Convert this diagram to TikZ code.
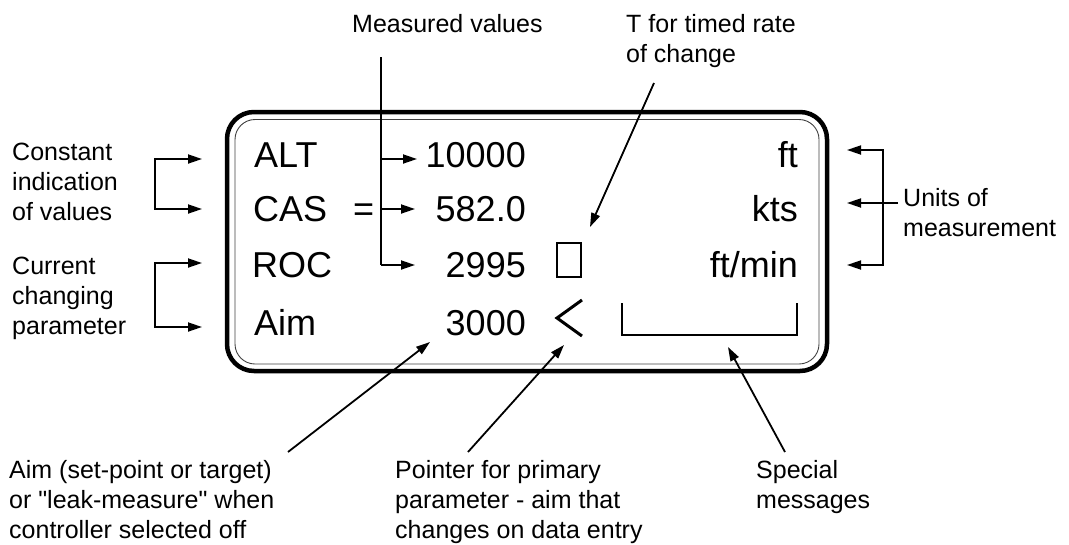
\documentclass[tikz,border=0pt]{standalone}
\usepackage{fontspec}
\setmainfont{Liberation Sans}
\usetikzlibrary{arrows.meta}
\begin{document}
\begin{tikzpicture}[x=1pt,y=-1pt,
  disp/.style={inner sep=0pt,font=\fontsize{36}{43}\selectfont},
  lbl/.style={inner sep=0pt,align=left,font=\fontsize{25}{30}\selectfont},
  conn/.style={line width=1.8pt,-{Triangle[length=14pt,width=9pt]}},
  plain/.style={line width=1.8pt},
  dbl/.style={line width=1.8pt,{Triangle[length=14pt,width=9pt]}-{Triangle[length=14pt,width=9pt]}}]
\useasboundingbox (0,0) rectangle (1069,544);
% display frame
\draw[line width=4.5pt,rounded corners=27pt] (227,112) rectangle (827,371);
\draw[line width=0.9pt,black!75,rounded corners=20pt] (235,119.5) rectangle (819,364);
% display text
\node[disp,anchor=base west] (alt) at (254,167) {ALT};
\node[disp,anchor=base west] (cas) at (253,221) {CAS};
\node[disp,anchor=base west] (roc) at (252,277) {ROC};
\node[disp,anchor=base west] (aim) at (254,335) {Aim};
\node[disp,anchor=base west] (eq) at (353,221) {=};
\node[disp,anchor=base east] (v1) at (526,167) {10000};
\node[disp,anchor=base east] (v2) at (526,221) {582.0};
\node[disp,anchor=base east] (v3) at (526,277) {2995};
\node[disp,anchor=base east] (v4) at (526,335) {3000};
\node[disp,anchor=base east] (u1) at (798,167) {ft};
\node[disp,anchor=base east] (u2) at (798,221) {kts};
\node[disp,anchor=base east] (u3) at (798,277) {ft/min};
% timed box, pointer, message field
\draw[line width=1.5pt] (557,243) rectangle (581,277);
\draw[line width=3pt] (582,300) -- (557,318) -- (582,336);
\draw[line width=1.5pt] (622,303) -- (622,335) -- (797,335) -- (797,303);
% labels (anchor = baseline of last line)
\node[lbl,anchor=base west] (lmeas) at (352,32) {Measured values};
\node[lbl,anchor=base west] (lt) at (626,62) {T for timed rate\\of change};
\node[lbl,anchor=base west] (lconst) at (12,220) {Constant\\indication\\of values};
\node[lbl,anchor=base west] (lcur) at (12,334) {Current\\changing\\parameter};
\node[lbl,anchor=base west] (lunits) at (903,236) {Units of\\measurement};
\node[lbl,anchor=base west] (laim) at (9,538) {Aim (set-point or target)\\or \textquotedbl leak-measure\textquotedbl{} when\\controller selected off};
\node[lbl,anchor=base west] (lptr) at (395,538) {Pointer for primary\\parameter - aim that\\changes on data entry};
\node[lbl,anchor=base west] (lspec) at (756,508) {Special\\messages};
% connector points
\coordinate (mtop) at (381,57);
\coordinate (m1) at (381,159);
\coordinate (m2) at (381,209);
\coordinate (m3) at (381,265);
\coordinate (t1) at (417,159);
\coordinate (t2) at (415,209);
\coordinate (t3) at (415,265);
\coordinate (ts) at (654,83);
\coordinate (te) at (590,227);
\coordinate (ca) at (202,159);
\coordinate (cb) at (202,209);
\coordinate (cc) at (202,263);
\coordinate (cd) at (202,327);
\coordinate (ua) at (847,150);
\coordinate (ub) at (847,203);
\coordinate (uc) at (847,265);
\coordinate (us) at (898,203);
\coordinate (as) at (288,452);
\coordinate (ae) at (430,342);
\coordinate (ps) at (468,452);
\coordinate (pe) at (564,345);
\coordinate (ss) at (785,452);
\coordinate (se) at (728,347);
% measured values connectors
\draw[plain] (mtop) -- (m3);
\draw[conn] (m1) -- (t1);
\draw[conn] (m2) -- (t2);
\draw[conn] (m3) -- (t3);
% T connector
\draw[conn] (ts) -- (te);
% left brackets
\draw[dbl] (ca) -- (155,159) -- (155,209) -- (cb);
\draw[dbl] (cc) -- (155,263) -- (155,327) -- (cd);
% right bracket
\draw[dbl] (ua) -- (883,150) -- (883,265) -- (uc);
\draw[conn] (us) -- (ub);
% bottom connectors
\draw[conn] (as) -- (ae);
\draw[conn] (ps) -- (pe);
\draw[conn] (ss) -- (se);
\end{tikzpicture}
\end{document}
